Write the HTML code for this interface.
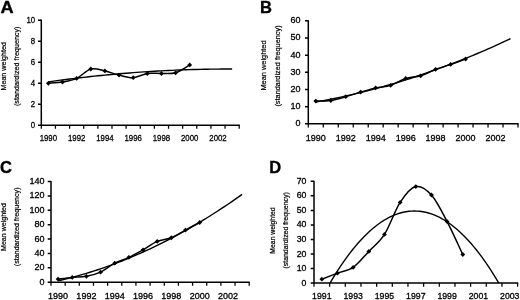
<!DOCTYPE html>
<html><head><meta charset="utf-8"><style>
html,body{margin:0;padding:0;background:#fff;}
body{width:520px;height:300px;overflow:hidden;}
svg{display:block;will-change:transform;filter:blur(0.3px);font-family:"Liberation Sans",sans-serif;}
.l{fill:#000;stroke:#000;stroke-width:0.3px;}
.t{fill:#000;stroke:#000;stroke-width:0.2px;}
</style></head><body>
<svg width="520" height="300" viewBox="0 0 520 300">
<rect width="520" height="300" fill="#fff"/>
<text transform="translate(0.40,13.10) scale(1.100,1)" font-size="16.5" font-weight="bold" fill="#000" stroke="#000" stroke-width="0.35">A</text>
<path d="M41.30,19.60 V125.20 H239.80" fill="none" stroke="#000" stroke-width="1.5"/>
<text transform="translate(35.20,127.70) scale(0.870,1)" text-anchor="end" font-size="9.00" class="l">0</text>
<text transform="translate(35.20,106.70) scale(0.870,1)" text-anchor="end" font-size="9.00" class="l">2</text>
<text transform="translate(35.20,85.70) scale(0.870,1)" text-anchor="end" font-size="9.00" class="l">4</text>
<text transform="translate(35.20,64.70) scale(0.870,1)" text-anchor="end" font-size="9.00" class="l">6</text>
<text transform="translate(35.20,43.70) scale(0.870,1)" text-anchor="end" font-size="9.00" class="l">8</text>
<text transform="translate(35.20,22.70) scale(0.870,1)" text-anchor="end" font-size="9.00" class="l">10</text>
<path d="M41.30,125.20V128.80M55.44,125.20V128.80M69.57,125.20V128.80M83.71,125.20V128.80M97.84,125.20V128.80M111.98,125.20V128.80M126.11,125.20V128.80M140.25,125.20V128.80M154.39,125.20V128.80M168.52,125.20V128.80M182.66,125.20V128.80M196.79,125.20V128.80M210.93,125.20V128.80M225.06,125.20V128.80M239.20,125.20V128.80" fill="none" stroke="#000" stroke-width="1.25"/>
<path d="M38.00,125.20H41.30M38.00,104.20H41.30M38.00,83.20H41.30M38.00,62.20H41.30M38.00,41.20H41.30M38.00,20.20H41.30" fill="none" stroke="#000" stroke-width="1.5"/>
<text transform="translate(48.37,141.20) scale(0.870,1)" text-anchor="middle" font-size="9.00" class="l">1990</text>
<text transform="translate(76.64,141.20) scale(0.870,1)" text-anchor="middle" font-size="9.00" class="l">1992</text>
<text transform="translate(104.91,141.20) scale(0.870,1)" text-anchor="middle" font-size="9.00" class="l">1994</text>
<text transform="translate(133.18,141.20) scale(0.870,1)" text-anchor="middle" font-size="9.00" class="l">1996</text>
<text transform="translate(161.45,141.20) scale(0.870,1)" text-anchor="middle" font-size="9.00" class="l">1998</text>
<text transform="translate(189.72,141.20) scale(0.870,1)" text-anchor="middle" font-size="9.00" class="l">2000</text>
<text transform="translate(218.00,141.20) scale(0.870,1)" text-anchor="middle" font-size="9.00" class="l">2002</text>
<text transform="translate(5.70,66.30) rotate(-90)" text-anchor="middle" font-size="7.17" class="t">Mean weighted</text>
<text transform="translate(18.50,66.30) rotate(-90)" text-anchor="middle" font-size="7.20" class="t">(standardized frequency)</text>
<path d="M48.37,81.84 L51.90,81.34 L55.44,80.86 L58.97,80.38 L62.50,79.92 L66.04,79.46 L69.57,79.02 L73.11,78.58 L76.64,78.16 L80.17,77.74 L83.71,77.33 L87.24,76.94 L90.77,76.55 L94.31,76.17 L97.84,75.80 L101.38,75.45 L104.91,75.10 L108.44,74.76 L111.98,74.43 L115.51,74.11 L119.05,73.80 L122.58,73.50 L126.11,73.21 L129.65,72.93 L133.18,72.66 L136.72,72.40 L140.25,72.15 L143.78,71.91 L147.32,71.68 L150.85,71.46 L154.39,71.24 L157.92,71.04 L161.45,70.85 L164.99,70.66 L168.52,70.49 L172.06,70.33 L175.59,70.17 L179.12,70.03 L182.66,69.89 L186.19,69.77 L189.72,69.66 L193.26,69.55 L196.79,69.45 L200.33,69.37 L203.86,69.29 L207.39,69.23 L210.93,69.17 L214.46,69.12 L218.00,69.08 L221.53,69.06 L225.06,69.04 L228.60,69.03 L232.13,69.03" fill="none" stroke="#000" stroke-width="1.4"/>
<path d="M48.37,83.30 C50.72,83.08 57.79,82.82 62.50,82.00 C67.22,81.18 71.93,80.57 76.64,78.40 C81.35,76.23 86.06,70.25 90.77,69.00 C95.49,67.75 100.20,69.88 104.91,70.90 C109.62,71.92 114.33,73.97 119.05,75.10 C123.76,76.23 128.47,77.97 133.18,77.70 C137.89,77.43 142.61,74.20 147.32,73.50 C152.03,72.80 156.74,73.62 161.45,73.50 C166.17,73.38 170.88,74.23 175.59,72.80 C180.30,71.37 187.37,66.22 189.72,64.90" fill="none" stroke="#000" stroke-width="1.5"/>
<g fill="#000"><path d="M48.37,80.90 L50.77,83.30 L48.37,85.70 L45.97,83.30 Z"/><path d="M62.50,79.60 L64.90,82.00 L62.50,84.40 L60.10,82.00 Z"/><path d="M76.64,76.00 L79.04,78.40 L76.64,80.80 L74.24,78.40 Z"/><path d="M90.77,66.60 L93.17,69.00 L90.77,71.40 L88.37,69.00 Z"/><path d="M104.91,68.50 L107.31,70.90 L104.91,73.30 L102.51,70.90 Z"/><path d="M119.05,72.70 L121.45,75.10 L119.05,77.50 L116.65,75.10 Z"/><path d="M133.18,75.30 L135.58,77.70 L133.18,80.10 L130.78,77.70 Z"/><path d="M147.32,71.10 L149.72,73.50 L147.32,75.90 L144.92,73.50 Z"/><path d="M161.45,71.10 L163.85,73.50 L161.45,75.90 L159.05,73.50 Z"/><path d="M175.59,70.40 L177.99,72.80 L175.59,75.20 L173.19,72.80 Z"/><path d="M189.72,62.50 L192.12,64.90 L189.72,67.30 L187.32,64.90 Z"/></g>
<text transform="translate(259.90,13.30) scale(1.000,1)" font-size="16.5" font-weight="bold" fill="#000" stroke="#000" stroke-width="0.35">B</text>
<path d="M308.30,20.20 V123.80 H518.60" fill="none" stroke="#000" stroke-width="1.5"/>
<text transform="translate(300.50,126.30) scale(1.000,1)" text-anchor="end" font-size="9.00" class="l">0</text>
<text transform="translate(300.50,109.13) scale(1.000,1)" text-anchor="end" font-size="9.00" class="l">10</text>
<text transform="translate(300.50,91.97) scale(1.000,1)" text-anchor="end" font-size="9.00" class="l">20</text>
<text transform="translate(300.50,74.80) scale(1.000,1)" text-anchor="end" font-size="9.00" class="l">30</text>
<text transform="translate(300.50,57.63) scale(1.000,1)" text-anchor="end" font-size="9.00" class="l">40</text>
<text transform="translate(300.50,40.47) scale(1.000,1)" text-anchor="end" font-size="9.00" class="l">50</text>
<text transform="translate(300.50,23.30) scale(1.000,1)" text-anchor="end" font-size="9.00" class="l">60</text>
<path d="M308.30,123.80V127.40M323.28,123.80V127.40M338.26,123.80V127.40M353.24,123.80V127.40M368.21,123.80V127.40M383.19,123.80V127.40M398.17,123.80V127.40M413.15,123.80V127.40M428.13,123.80V127.40M443.11,123.80V127.40M458.09,123.80V127.40M473.06,123.80V127.40M488.04,123.80V127.40M503.02,123.80V127.40M518.00,123.80V127.40" fill="none" stroke="#000" stroke-width="1.25"/>
<path d="M305.00,123.80H308.30M305.00,106.63H308.30M305.00,89.47H308.30M305.00,72.30H308.30M305.00,55.13H308.30M305.00,37.97H308.30M305.00,20.80H308.30" fill="none" stroke="#000" stroke-width="1.5"/>
<text transform="translate(315.79,141.20) scale(1.000,1)" text-anchor="middle" font-size="9.00" class="l">1990</text>
<text transform="translate(345.75,141.20) scale(1.000,1)" text-anchor="middle" font-size="9.00" class="l">1992</text>
<text transform="translate(375.70,141.20) scale(1.000,1)" text-anchor="middle" font-size="9.00" class="l">1994</text>
<text transform="translate(405.66,141.20) scale(1.000,1)" text-anchor="middle" font-size="9.00" class="l">1996</text>
<text transform="translate(435.62,141.20) scale(1.000,1)" text-anchor="middle" font-size="9.00" class="l">1998</text>
<text transform="translate(465.57,141.20) scale(1.000,1)" text-anchor="middle" font-size="9.00" class="l">2000</text>
<text transform="translate(495.53,141.20) scale(1.000,1)" text-anchor="middle" font-size="9.00" class="l">2002</text>
<text transform="translate(266.40,65.50) rotate(-90)" text-anchor="middle" font-size="7.40" class="t">Mean weighted</text>
<text transform="translate(280.20,66.00) rotate(-90)" text-anchor="middle" font-size="7.35" class="t">(standardized frequency)</text>
<path d="M315.79,102.09 L319.53,101.41 L323.28,100.71 L327.02,99.98 L330.77,99.24 L334.51,98.47 L338.26,97.68 L342.00,96.87 L345.75,96.04 L349.49,95.19 L353.24,94.32 L356.98,93.42 L360.73,92.51 L364.47,91.57 L368.21,90.62 L371.96,89.64 L375.70,88.64 L379.45,87.62 L383.19,86.58 L386.94,85.52 L390.68,84.44 L394.43,83.34 L398.17,82.21 L401.92,81.07 L405.66,79.90 L409.41,78.71 L413.15,77.50 L416.89,76.27 L420.64,75.02 L424.38,73.75 L428.13,72.46 L431.87,71.15 L435.62,69.81 L439.36,68.46 L443.11,67.08 L446.85,65.68 L450.60,64.26 L454.34,62.82 L458.09,61.36 L461.83,59.88 L465.57,58.38 L469.32,56.85 L473.06,55.31 L476.81,53.74 L480.55,52.16 L484.30,50.55 L488.04,48.92 L491.79,47.27 L495.53,45.60 L499.28,43.91 L503.02,42.19 L506.77,40.46 L510.51,38.71" fill="none" stroke="#000" stroke-width="1.4"/>
<path d="M315.79,101.10 C318.29,101.00 325.78,101.23 330.77,100.50 C335.76,99.77 340.75,98.10 345.75,96.70 C350.74,95.30 355.73,93.57 360.73,92.10 C365.72,90.63 370.71,89.03 375.70,87.90 C380.70,86.77 385.69,86.88 390.68,85.30 C395.68,83.72 400.67,80.03 405.66,78.45 C410.65,76.87 415.65,77.33 420.64,75.80 C425.63,74.27 430.62,71.20 435.62,69.30 C440.61,67.40 445.60,66.12 450.60,64.40 C455.59,62.68 463.08,59.90 465.57,59.00" fill="none" stroke="#000" stroke-width="1.5"/>
<g fill="#000"><path d="M315.79,98.70 L318.19,101.10 L315.79,103.50 L313.39,101.10 Z"/><path d="M330.77,98.10 L333.17,100.50 L330.77,102.90 L328.37,100.50 Z"/><path d="M345.75,94.30 L348.15,96.70 L345.75,99.10 L343.35,96.70 Z"/><path d="M360.73,89.70 L363.12,92.10 L360.73,94.50 L358.33,92.10 Z"/><path d="M375.70,85.50 L378.10,87.90 L375.70,90.30 L373.30,87.90 Z"/><path d="M390.68,82.90 L393.08,85.30 L390.68,87.70 L388.28,85.30 Z"/><path d="M405.66,76.05 L408.06,78.45 L405.66,80.85 L403.26,78.45 Z"/><path d="M420.64,73.40 L423.04,75.80 L420.64,78.20 L418.24,75.80 Z"/><path d="M435.62,66.90 L438.02,69.30 L435.62,71.70 L433.22,69.30 Z"/><path d="M450.60,62.00 L453.00,64.40 L450.60,66.80 L448.20,64.40 Z"/><path d="M465.57,56.60 L467.97,59.00 L465.57,61.40 L463.18,59.00 Z"/></g>
<text transform="translate(0.10,173.30) scale(1.000,1)" font-size="16.5" font-weight="bold" fill="#000" stroke="#000" stroke-width="0.35">C</text>
<path d="M51.00,180.90 V282.20 H249.80" fill="none" stroke="#000" stroke-width="1.5"/>
<text transform="translate(44.50,284.70) scale(1.000,1)" text-anchor="end" font-size="9.00" class="l">0</text>
<text transform="translate(44.50,270.31) scale(1.000,1)" text-anchor="end" font-size="9.00" class="l">20</text>
<text transform="translate(44.50,255.93) scale(1.000,1)" text-anchor="end" font-size="9.00" class="l">40</text>
<text transform="translate(44.50,241.54) scale(1.000,1)" text-anchor="end" font-size="9.00" class="l">60</text>
<text transform="translate(44.50,227.16) scale(1.000,1)" text-anchor="end" font-size="9.00" class="l">80</text>
<text transform="translate(44.50,212.77) scale(1.000,1)" text-anchor="end" font-size="9.00" class="l">100</text>
<text transform="translate(44.50,198.39) scale(1.000,1)" text-anchor="end" font-size="9.00" class="l">120</text>
<text transform="translate(44.50,184.00) scale(1.000,1)" text-anchor="end" font-size="9.00" class="l">140</text>
<path d="M51.00,282.20V285.80M65.16,282.20V285.80M79.31,282.20V285.80M93.47,282.20V285.80M107.63,282.20V285.80M121.79,282.20V285.80M135.94,282.20V285.80M150.10,282.20V285.80M164.26,282.20V285.80M178.41,282.20V285.80M192.57,282.20V285.80M206.73,282.20V285.80M220.89,282.20V285.80M235.04,282.20V285.80M249.20,282.20V285.80" fill="none" stroke="#000" stroke-width="1.25"/>
<path d="M47.70,282.20H51.00M47.70,267.81H51.00M47.70,253.43H51.00M47.70,239.04H51.00M47.70,224.66H51.00M47.70,210.27H51.00M47.70,195.89H51.00M47.70,181.50H51.00" fill="none" stroke="#000" stroke-width="1.5"/>
<text transform="translate(58.08,298.50) scale(1.000,1)" text-anchor="middle" font-size="9.00" class="l">1990</text>
<text transform="translate(86.39,298.50) scale(1.000,1)" text-anchor="middle" font-size="9.00" class="l">1992</text>
<text transform="translate(114.71,298.50) scale(1.000,1)" text-anchor="middle" font-size="9.00" class="l">1994</text>
<text transform="translate(143.02,298.50) scale(1.000,1)" text-anchor="middle" font-size="9.00" class="l">1996</text>
<text transform="translate(171.34,298.50) scale(1.000,1)" text-anchor="middle" font-size="9.00" class="l">1998</text>
<text transform="translate(199.65,298.50) scale(1.000,1)" text-anchor="middle" font-size="9.00" class="l">2000</text>
<text transform="translate(227.96,298.50) scale(1.000,1)" text-anchor="middle" font-size="9.00" class="l">2002</text>
<text transform="translate(5.80,227.00) rotate(-90)" text-anchor="middle" font-size="7.07" class="t">Mean weighted</text>
<text transform="translate(19.10,226.80) rotate(-90)" text-anchor="middle" font-size="7.12" class="t">(standardized frequency)</text>
<path d="M58.08,280.79 L61.62,279.98 L65.16,279.12 L68.70,278.24 L72.24,277.32 L75.78,276.38 L79.31,275.39 L82.85,274.38 L86.39,273.33 L89.93,272.25 L93.47,271.13 L97.01,269.98 L100.55,268.80 L104.09,267.59 L107.63,266.34 L111.17,265.06 L114.71,263.75 L118.25,262.40 L121.79,261.02 L125.33,259.61 L128.86,258.16 L132.40,256.68 L135.94,255.17 L139.48,253.62 L143.02,252.05 L146.56,250.44 L150.10,248.79 L153.64,247.11 L157.18,245.40 L160.72,243.66 L164.26,241.88 L167.80,240.07 L171.34,238.23 L174.88,236.35 L178.41,234.44 L181.95,232.50 L185.49,230.53 L189.03,228.52 L192.57,226.48 L196.11,224.40 L199.65,222.29 L203.19,220.15 L206.73,217.98 L210.27,215.77 L213.81,213.53 L217.35,211.26 L220.89,208.95 L224.42,206.61 L227.96,204.24 L231.50,201.84 L235.04,199.40 L238.58,196.93 L242.12,194.42" fill="none" stroke="#000" stroke-width="1.4"/>
<path d="M58.08,279.11 C60.44,278.82 67.52,277.85 72.24,277.38 C76.95,276.91 81.67,277.18 86.39,276.30 C91.11,275.43 95.83,274.31 100.55,272.13 C105.27,269.95 109.99,265.68 114.71,263.21 C119.43,260.74 124.15,259.53 128.86,257.31 C133.58,255.09 138.30,252.55 143.02,249.90 C147.74,247.25 152.46,243.44 157.18,241.42 C161.90,239.39 166.62,239.64 171.34,237.75 C176.05,235.85 180.77,232.59 185.49,230.05 C190.21,227.51 197.29,223.76 199.65,222.50" fill="none" stroke="#000" stroke-width="1.5"/>
<g fill="#000"><path d="M58.08,276.71 L60.48,279.11 L58.08,281.51 L55.68,279.11 Z"/><path d="M72.24,274.98 L74.64,277.38 L72.24,279.78 L69.84,277.38 Z"/><path d="M86.39,273.90 L88.79,276.30 L86.39,278.70 L83.99,276.30 Z"/><path d="M100.55,269.73 L102.95,272.13 L100.55,274.53 L98.15,272.13 Z"/><path d="M114.71,260.81 L117.11,263.21 L114.71,265.61 L112.31,263.21 Z"/><path d="M128.86,254.91 L131.26,257.31 L128.86,259.71 L126.46,257.31 Z"/><path d="M143.02,247.50 L145.42,249.90 L143.02,252.30 L140.62,249.90 Z"/><path d="M157.18,239.02 L159.58,241.42 L157.18,243.82 L154.78,241.42 Z"/><path d="M171.34,235.35 L173.74,237.75 L171.34,240.15 L168.94,237.75 Z"/><path d="M185.49,227.65 L187.89,230.05 L185.49,232.45 L183.09,230.05 Z"/><path d="M199.65,220.10 L202.05,222.50 L199.65,224.90 L197.25,222.50 Z"/></g>
<text transform="translate(269.20,173.40) scale(1.000,1)" font-size="16.5" font-weight="bold" fill="#000" stroke="#000" stroke-width="0.35">D</text>
<path d="M314.00,180.70 V283.10 H518.20" fill="none" stroke="#000" stroke-width="1.5"/>
<text transform="translate(306.40,285.60) scale(0.970,1)" text-anchor="end" font-size="9.00" class="l">0</text>
<text transform="translate(306.40,271.06) scale(0.970,1)" text-anchor="end" font-size="9.00" class="l">10</text>
<text transform="translate(306.40,256.51) scale(0.970,1)" text-anchor="end" font-size="9.00" class="l">20</text>
<text transform="translate(306.40,241.97) scale(0.970,1)" text-anchor="end" font-size="9.00" class="l">30</text>
<text transform="translate(306.40,227.43) scale(0.970,1)" text-anchor="end" font-size="9.00" class="l">40</text>
<text transform="translate(306.40,212.89) scale(0.970,1)" text-anchor="end" font-size="9.00" class="l">50</text>
<text transform="translate(306.40,198.34) scale(0.970,1)" text-anchor="end" font-size="9.00" class="l">60</text>
<text transform="translate(306.40,183.80) scale(0.970,1)" text-anchor="end" font-size="9.00" class="l">70</text>
<path d="M314.00,283.10V286.70M329.66,283.10V286.70M345.32,283.10V286.70M360.98,283.10V286.70M376.65,283.10V286.70M392.31,283.10V286.70M407.97,283.10V286.70M423.63,283.10V286.70M439.29,283.10V286.70M454.95,283.10V286.70M470.62,283.10V286.70M486.28,283.10V286.70M501.94,283.10V286.70M517.60,283.10V286.70" fill="none" stroke="#000" stroke-width="1.25"/>
<path d="M310.70,283.10H314.00M310.70,268.56H314.00M310.70,254.01H314.00M310.70,239.47H314.00M310.70,224.93H314.00M310.70,210.39H314.00M310.70,195.84H314.00M310.70,181.30H314.00" fill="none" stroke="#000" stroke-width="1.5"/>
<text transform="translate(321.83,298.50) scale(0.970,1)" text-anchor="middle" font-size="9.00" class="l">1991</text>
<text transform="translate(353.15,298.50) scale(0.970,1)" text-anchor="middle" font-size="9.00" class="l">1993</text>
<text transform="translate(384.48,298.50) scale(0.970,1)" text-anchor="middle" font-size="9.00" class="l">1995</text>
<text transform="translate(415.80,298.50) scale(0.970,1)" text-anchor="middle" font-size="9.00" class="l">1997</text>
<text transform="translate(447.12,298.50) scale(0.970,1)" text-anchor="middle" font-size="9.00" class="l">1999</text>
<text transform="translate(478.45,298.50) scale(0.970,1)" text-anchor="middle" font-size="9.00" class="l">2001</text>
<text transform="translate(509.77,298.50) scale(0.970,1)" text-anchor="middle" font-size="9.00" class="l">2003</text>
<text transform="translate(275.30,230.50) rotate(-90)" text-anchor="middle" font-size="6.83" class="t">Mean weighted</text>
<text transform="translate(288.20,230.40) rotate(-90)" text-anchor="middle" font-size="6.90" class="t">(standardized frequency)</text>
<path d="M330.00,283.10 L332.81,278.37 L335.63,273.81 L338.44,269.40 L341.25,265.16 L344.07,261.07 L346.88,257.14 L349.69,253.38 L352.51,249.77 L355.32,246.33 L358.13,243.04 L360.95,239.92 L363.76,236.96 L366.57,234.15 L369.39,231.51 L372.20,229.03 L375.01,226.70 L377.83,224.54 L380.64,222.54 L383.45,220.69 L386.27,219.01 L389.08,217.49 L391.89,216.13 L394.71,214.93 L397.52,213.88 L400.33,213.00 L403.15,212.28 L405.96,211.72 L408.77,211.32 L411.59,211.08 L414.40,211.00 L417.21,211.08 L420.03,211.32 L422.84,211.72 L425.65,212.28 L428.47,213.00 L431.28,213.88 L434.09,214.93 L436.91,216.13 L439.72,217.49 L442.53,219.01 L445.35,220.69 L448.16,222.54 L450.97,224.54 L453.79,226.70 L456.60,229.03 L459.41,231.51 L462.23,234.15 L465.04,236.96 L467.85,239.92 L470.67,243.04 L473.48,246.33 L476.29,249.77 L479.11,253.38 L481.92,257.14 L484.73,261.07 L487.55,265.16 L490.36,269.40 L493.17,273.81 L495.99,278.37 L498.80,283.10" fill="none" stroke="#000" stroke-width="1.4"/>
<path d="M321.83,279.20 C324.44,278.20 332.27,275.17 337.49,273.20 C342.71,271.23 347.93,271.03 353.15,267.40 C358.37,263.77 363.59,256.90 368.82,251.40 C374.04,245.90 379.26,242.57 384.48,234.40 C389.70,226.23 394.92,210.37 400.14,202.40 C405.36,194.43 410.58,187.83 415.80,186.60 C421.02,185.37 426.24,189.17 431.46,195.00 C436.68,200.83 441.90,211.68 447.12,221.60 C452.34,231.52 460.17,249.02 462.78,254.50" fill="none" stroke="#000" stroke-width="1.5"/>
<g fill="#000"><path d="M321.83,276.80 L324.23,279.20 L321.83,281.60 L319.43,279.20 Z"/><path d="M337.49,270.80 L339.89,273.20 L337.49,275.60 L335.09,273.20 Z"/><path d="M353.15,265.00 L355.55,267.40 L353.15,269.80 L350.75,267.40 Z"/><path d="M368.82,249.00 L371.22,251.40 L368.82,253.80 L366.42,251.40 Z"/><path d="M384.48,232.00 L386.88,234.40 L384.48,236.80 L382.08,234.40 Z"/><path d="M400.14,200.00 L402.54,202.40 L400.14,204.80 L397.74,202.40 Z"/><path d="M415.80,184.20 L418.20,186.60 L415.80,189.00 L413.40,186.60 Z"/><path d="M431.46,192.60 L433.86,195.00 L431.46,197.40 L429.06,195.00 Z"/><path d="M447.12,219.20 L449.52,221.60 L447.12,224.00 L444.72,221.60 Z"/><path d="M462.78,252.10 L465.18,254.50 L462.78,256.90 L460.38,254.50 Z"/></g>
</svg>
</body></html>
